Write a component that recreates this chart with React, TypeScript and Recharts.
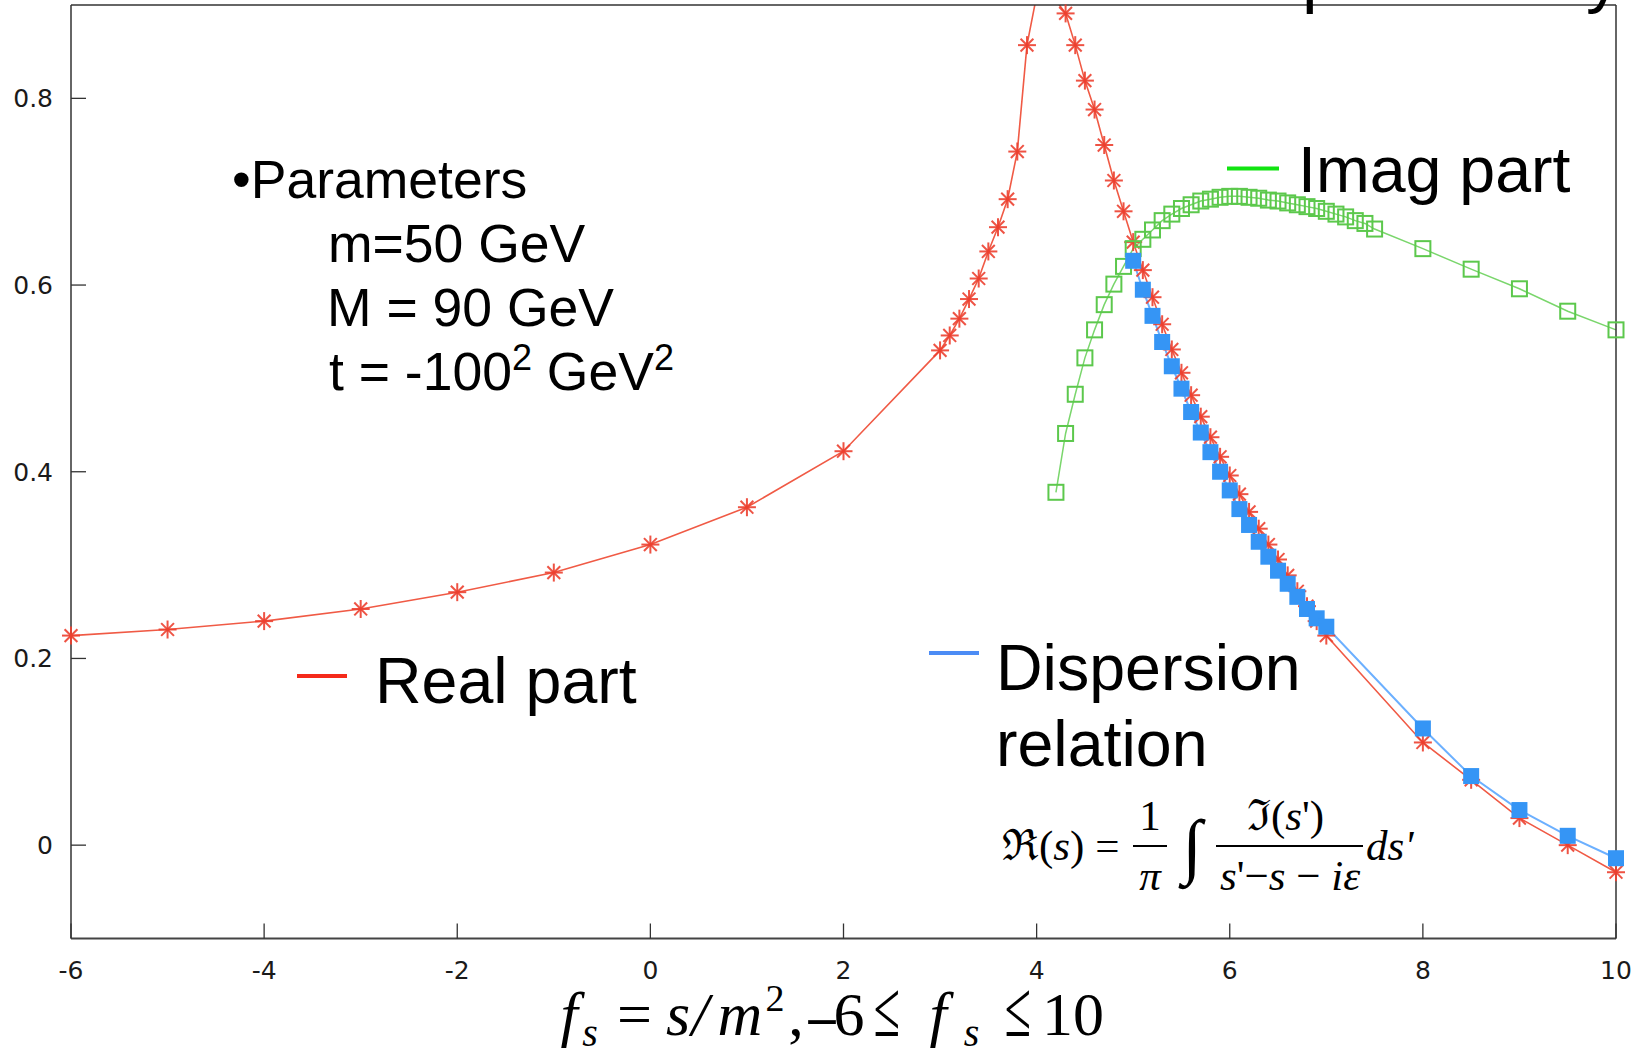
import { Line, LineChart, XAxis, YAxis } from "recharts";

// axis ticks
const xTicks = [-6, -4, -2, 0, 2, 4, 6, 8, 10];
const yTicks = [0, 0.2, 0.4, 0.6, 0.8];

// Real part (red asterisks)
const realX = [
  -6, -5, -4, -3, -2, -1, 0, 1, 2, 3, 3.1, 3.2, 3.3, 3.4, 3.5, 3.6, 3.7, 3.8, 3.9, 4.0, 4.1, 4.2,
  4.3, 4.4, 4.5, 4.6, 4.7, 4.8, 4.9, 5.0, 5.1, 5.2, 5.3, 5.4, 5.5, 5.6, 5.7, 5.8, 5.9, 6.0, 6.1,
  6.2, 6.3, 6.4, 6.5, 6.6, 6.7, 6.8, 6.9, 7.0, 8.0, 8.5, 9.0, 9.5, 10,
];
const realY = [
  0.2245, 0.231, 0.24, 0.253, 0.271, 0.292, 0.322, 0.362, 0.422, 0.53, 0.546, 0.564, 0.585, 0.607,
  0.636, 0.662, 0.692, 0.743, 0.857, 0.91, 1.0, 0.905, 0.891, 0.857, 0.819, 0.788, 0.75, 0.712,
  0.679, 0.646, 0.616, 0.587, 0.558, 0.531, 0.506, 0.482, 0.459, 0.437, 0.416, 0.396, 0.376, 0.357,
  0.339, 0.322, 0.306, 0.289, 0.272, 0.256, 0.24, 0.2245, 0.11, 0.07, 0.029, 0.0, -0.029,
];

// Imag part (green open squares)
const imagX = [
  4.2, 4.3, 4.4, 4.5, 4.6, 4.7, 4.8, 4.9, 5.0, 5.1, 5.2, 5.3, 5.4, 5.5, 5.6, 5.7, 5.8, 5.9, 6.0,
  6.1, 6.2, 6.3, 6.4, 6.5, 6.6, 6.7, 6.8, 6.9, 7.0, 7.1, 7.2, 7.3, 7.4, 7.5, 8.0, 8.5, 9.0, 9.5, 10,
];
const imagY = [
  0.378, 0.441, 0.483, 0.522, 0.552, 0.579, 0.601, 0.62, 0.639, 0.649, 0.659, 0.669, 0.676, 0.682,
  0.686, 0.69, 0.692, 0.694, 0.695, 0.695, 0.694, 0.693, 0.691, 0.69, 0.688, 0.686, 0.684, 0.682,
  0.679, 0.676, 0.673, 0.669, 0.666, 0.66, 0.639, 0.617, 0.596, 0.572, 0.552,
];

// Dispersion relation (blue filled squares)
const dispX = [
  5.0, 5.1, 5.2, 5.3, 5.4, 5.5, 5.6, 5.7, 5.8, 5.9, 6.0, 6.1, 6.2, 6.3, 6.4, 6.5, 6.6, 6.7, 6.8,
  6.9, 7.0, 8.0, 8.5, 9.0, 9.5, 10,
];
const dispY = [
  0.626, 0.595, 0.567, 0.539, 0.513, 0.489, 0.464, 0.442, 0.421, 0.4, 0.38, 0.36, 0.343, 0.325,
  0.309, 0.294, 0.28, 0.266, 0.253, 0.243, 0.234, 0.125, 0.074, 0.0376, 0.01, -0.014,
];

const zip = (xs: number[], ys: number[]) => xs.map((x, i) => ({ x, y: ys[i] }));
const realPart = zip(realX, realY);
const realMarks = realPart.filter((p) => p.y <= 0.9);
const imagPart = zip(imagX, imagY);
const dispersion = zip(dispX, dispY);

const SANS = '"Liberation Sans", Arial, sans-serif';
const TICKFONT = '"DejaVu Sans", sans-serif';
const SERIF = '"Liberation Serif", "DejaVu Serif", serif';
const AXIS = "#333";
const TICK = 15;

function BottomTick({ x, y, payload }: any) {
  return (
    <g>
      <line x1={x} y1={y} x2={x} y2={y - TICK} stroke={AXIS} strokeWidth={1.3} />
      <text x={x} y={y + 31} dy="0.36em" textAnchor="middle" fontSize={25} fontFamily={TICKFONT} fill="#1a1a1a">
        {payload.value}
      </text>
    </g>
  );
}

function TopTick({ x, y }: any) {
  return <line x1={x} y1={y} x2={x} y2={y + TICK} stroke={AXIS} strokeWidth={1.3} />;
}

function LeftTick({ x, y, payload }: any) {
  return (
    <g>
      <line x1={x} y1={y} x2={x + TICK} y2={y} stroke={AXIS} strokeWidth={1.3} />
      <text x={x - 18} y={y} dy="0.36em" textAnchor="end" fontSize={25} fontFamily={TICKFONT} fill="#1a1a1a">
        {payload.value}
      </text>
    </g>
  );
}

function RightTick({ x, y }: any) {
  return <line x1={x} y1={y} x2={x - TICK} y2={y} stroke={AXIS} strokeWidth={1.3} />;
}

function Asterisk({ cx, cy }: { cx?: number; cy?: number }) {
  if (cx == null || cy == null) return <g />;
  const a = 9;
  const d = 6.4;
  return (
    <g stroke="#ec4030" strokeWidth={2} strokeOpacity={0.9}>
      <line x1={cx - a} y1={cy} x2={cx + a} y2={cy} />
      <line x1={cx} y1={cy - a} x2={cx} y2={cy + a} />
      <line x1={cx - d} y1={cy - d} x2={cx + d} y2={cy + d} />
      <line x1={cx - d} y1={cy + d} x2={cx + d} y2={cy - d} />
    </g>
  );
}

function OpenSquare({ cx, cy }: { cx?: number; cy?: number }) {
  if (cx == null || cy == null) return <g />;
  return <rect x={cx - 7.5} y={cy - 7.5} width={15} height={15} fill="none" stroke="#5cc84c" strokeWidth={2} />;
}

function FilledSquare({ cx, cy }: { cx?: number; cy?: number }) {
  if (cx == null || cy == null) return <g />;
  return <rect x={cx - 8} y={cy - 8} width={16} height={16} fill="#3595f5" />;
}

function Annotations() {
  return (
    <svg
      width={1651}
      height={1053}
      style={{ position: "absolute", left: 0, top: 0, pointerEvents: "none" }}
    >
      {/* slide title, cut off at the top edge */}
      <text x={1302} y={-1.5} fontSize={70} fontFamily={SANS} fill="#000">
        probability
      </text>

      {/* parameters */}
      <g fontFamily={SANS} fontSize={53.5} fill="#000">
        <text x={232} y={198}>•Parameters</text>
        <text x={328} y={262}>m=50 GeV</text>
        <text x={327} y={326}>M = 90 GeV</text>
        <text x={329} y={390}>
          t = -100<tspan fontSize={36} dy={-20}>2</tspan>
          <tspan dy={20}> GeV</tspan>
          <tspan fontSize={36} dy={-20}>2</tspan>
        </text>
      </g>

      {/* legends */}
      <line x1={1227} y1={168.5} x2={1279} y2={168.5} stroke="#11e411" strokeWidth={4} />
      <text x={1298} y={192} fontSize={64.5} fontFamily={SANS} fill="#000">Imag part</text>

      <line x1={297} y1={676} x2={347} y2={676} stroke="#f52a1a" strokeWidth={4} />
      <text x={375} y={703} fontSize={64.5} fontFamily={SANS} fill="#000">Real part</text>

      <line x1={929} y1={653} x2={979} y2={653} stroke="#4c8cf5" strokeWidth={4} />
      <text x={996} y={690} fontSize={64.5} fontFamily={SANS} fill="#000">Dispersion</text>
      <text x={996} y={766} fontSize={64.5} fontFamily={SANS} fill="#000">relation</text>

      {/* dispersion formula */}
      <g fontFamily={SERIF} fontSize={43} fill="#000">
        <text x={1002} y={860}>
          ℜ(<tspan fontStyle="italic">s</tspan>) =
        </text>
        <text x={1150} y={830} textAnchor="middle">1</text>
        <line x1={1133} y1={846} x2={1167} y2={846} stroke="#000" strokeWidth={2} />
        <text x={1150} y={890} textAnchor="middle" fontStyle="italic">π</text>
        <text x={1192} y={870} textAnchor="middle" fontSize={72}>∫</text>
        <text x={1247} y={830}>
          ℑ(<tspan fontStyle="italic">s</tspan>')
        </text>
        <line x1={1216} y1={846} x2={1363} y2={846} stroke="#000" strokeWidth={2} />
        <text x={1220} y={890}>
          <tspan fontStyle="italic">s</tspan>'−<tspan fontStyle="italic">s</tspan> − <tspan fontStyle="italic">iε</tspan>
        </text>
        <text x={1366} y={860} fontStyle="italic">ds'</text>
      </g>

      {/* x axis title */}
      <g fontFamily={SERIF} fill="#000" textAnchor="middle">
        <text x={569} y={1035} fontSize={62} fontStyle="italic">f</text>
        <text x={590} y={1046} fontSize={40} fontStyle="italic">s</text>
        <text x={634.5} y={1035} fontSize={62}>=</text>
        <text x={678} y={1035} fontSize={62} fontStyle="italic">s</text>
        <text x={700} y={1035} fontSize={62} fontStyle="italic">/</text>
        <text x={740} y={1035} fontSize={62} fontStyle="italic">m</text>
        <text x={775} y={1011} fontSize={38}>2</text>
        <text x={796} y={1035} fontSize={62}>,</text>
        <text x={822} y={1035} fontSize={54} fontWeight="bold">–</text>
        <text x={849} y={1035} fontSize={62}>6</text>
        <text x={0} y={0} fontSize={80} transform="translate(887 1036) scale(0.6 1)">≤</text>
        <text x={938} y={1035} fontSize={62} fontStyle="italic">f</text>
        <text x={971.5} y={1046} fontSize={40} fontStyle="italic">s</text>
        <text x={0} y={0} fontSize={80} transform="translate(1018 1036) scale(0.6 1)">≤</text>
        <text x={1073} y={1035} fontSize={62}>10</text>
      </g>
    </svg>
  );
}

export default function App() {
  return (
    <div style={{ position: "absolute", left: 0, top: 0, width: 1651, height: 1053, background: "#fff" }}>
      <LineChart width={1651} height={1053} margin={{ top: 4, right: 34, bottom: 74.5, left: 11 }}>
        <XAxis
          xAxisId="b"
          type="number"
          dataKey="x"
          domain={[-6, 10]}
          ticks={xTicks}
          interval={0}
          height={40}
          tickSize={0}
          tickMargin={0}
          tickLine={false}
          axisLine={{ stroke: "#444", strokeWidth: 2.2 }}
          tick={BottomTick}
        />
        <XAxis
          xAxisId="t"
          orientation="top"
          type="number"
          dataKey="x"
          domain={[-6, 10]}
          ticks={xTicks}
          interval={0}
          height={1}
          tickSize={0}
          tickMargin={0}
          tickLine={false}
          axisLine={{ stroke: AXIS, strokeWidth: 1.5 }}
          tick={TopTick}
        />
        <YAxis
          yAxisId="l"
          type="number"
          domain={[-0.1, 0.9]}
          ticks={yTicks}
          interval={0}
          width={60}
          tickSize={0}
          tickMargin={0}
          tickLine={false}
          axisLine={{ stroke: AXIS, strokeWidth: 1.5 }}
          tick={LeftTick}
        />
        <YAxis
          yAxisId="r"
          orientation="right"
          type="number"
          domain={[-0.1, 0.9]}
          ticks={yTicks}
          interval={0}
          width={1}
          tickSize={0}
          tickMargin={0}
          tickLine={false}
          axisLine={{ stroke: AXIS, strokeWidth: 1.5 }}
          tick={RightTick}
        />
        <YAxis yAxisId="clip" hide width={0} type="number" domain={[-0.1, 0.9]} allowDataOverflow />

        <Line
          xAxisId="b"
          yAxisId="clip"
          data={realPart}
          dataKey="y"
          type="linear"
          stroke="#f05a45"
          strokeWidth={1.6}
          dot={false}
          activeDot={false}
          isAnimationActive={false}
        />
        <Line
          xAxisId="b"
          yAxisId="l"
          data={realMarks}
          dataKey="y"
          type="linear"
          stroke="none"
          dot={(p: any) => <Asterisk key={`ra-${p.index}`} cx={p.cx} cy={p.cy} />}
          activeDot={false}
          isAnimationActive={false}
        />
        <Line
          xAxisId="b"
          yAxisId="l"
          data={imagPart}
          dataKey="y"
          type="linear"
          stroke="#7ad66c"
          strokeWidth={1.5}
          dot={(p: any) => <OpenSquare key={`ia-${p.index}`} cx={p.cx} cy={p.cy} />}
          activeDot={false}
          isAnimationActive={false}
        />
        <Line
          xAxisId="b"
          yAxisId="l"
          data={dispersion}
          dataKey="y"
          type="linear"
          stroke="#6cb0ff"
          strokeWidth={2}
          dot={(p: any) => <FilledSquare key={`da-${p.index}`} cx={p.cx} cy={p.cy} />}
          activeDot={false}
          isAnimationActive={false}
        />
      </LineChart>
      <Annotations />
    </div>
  );
}
